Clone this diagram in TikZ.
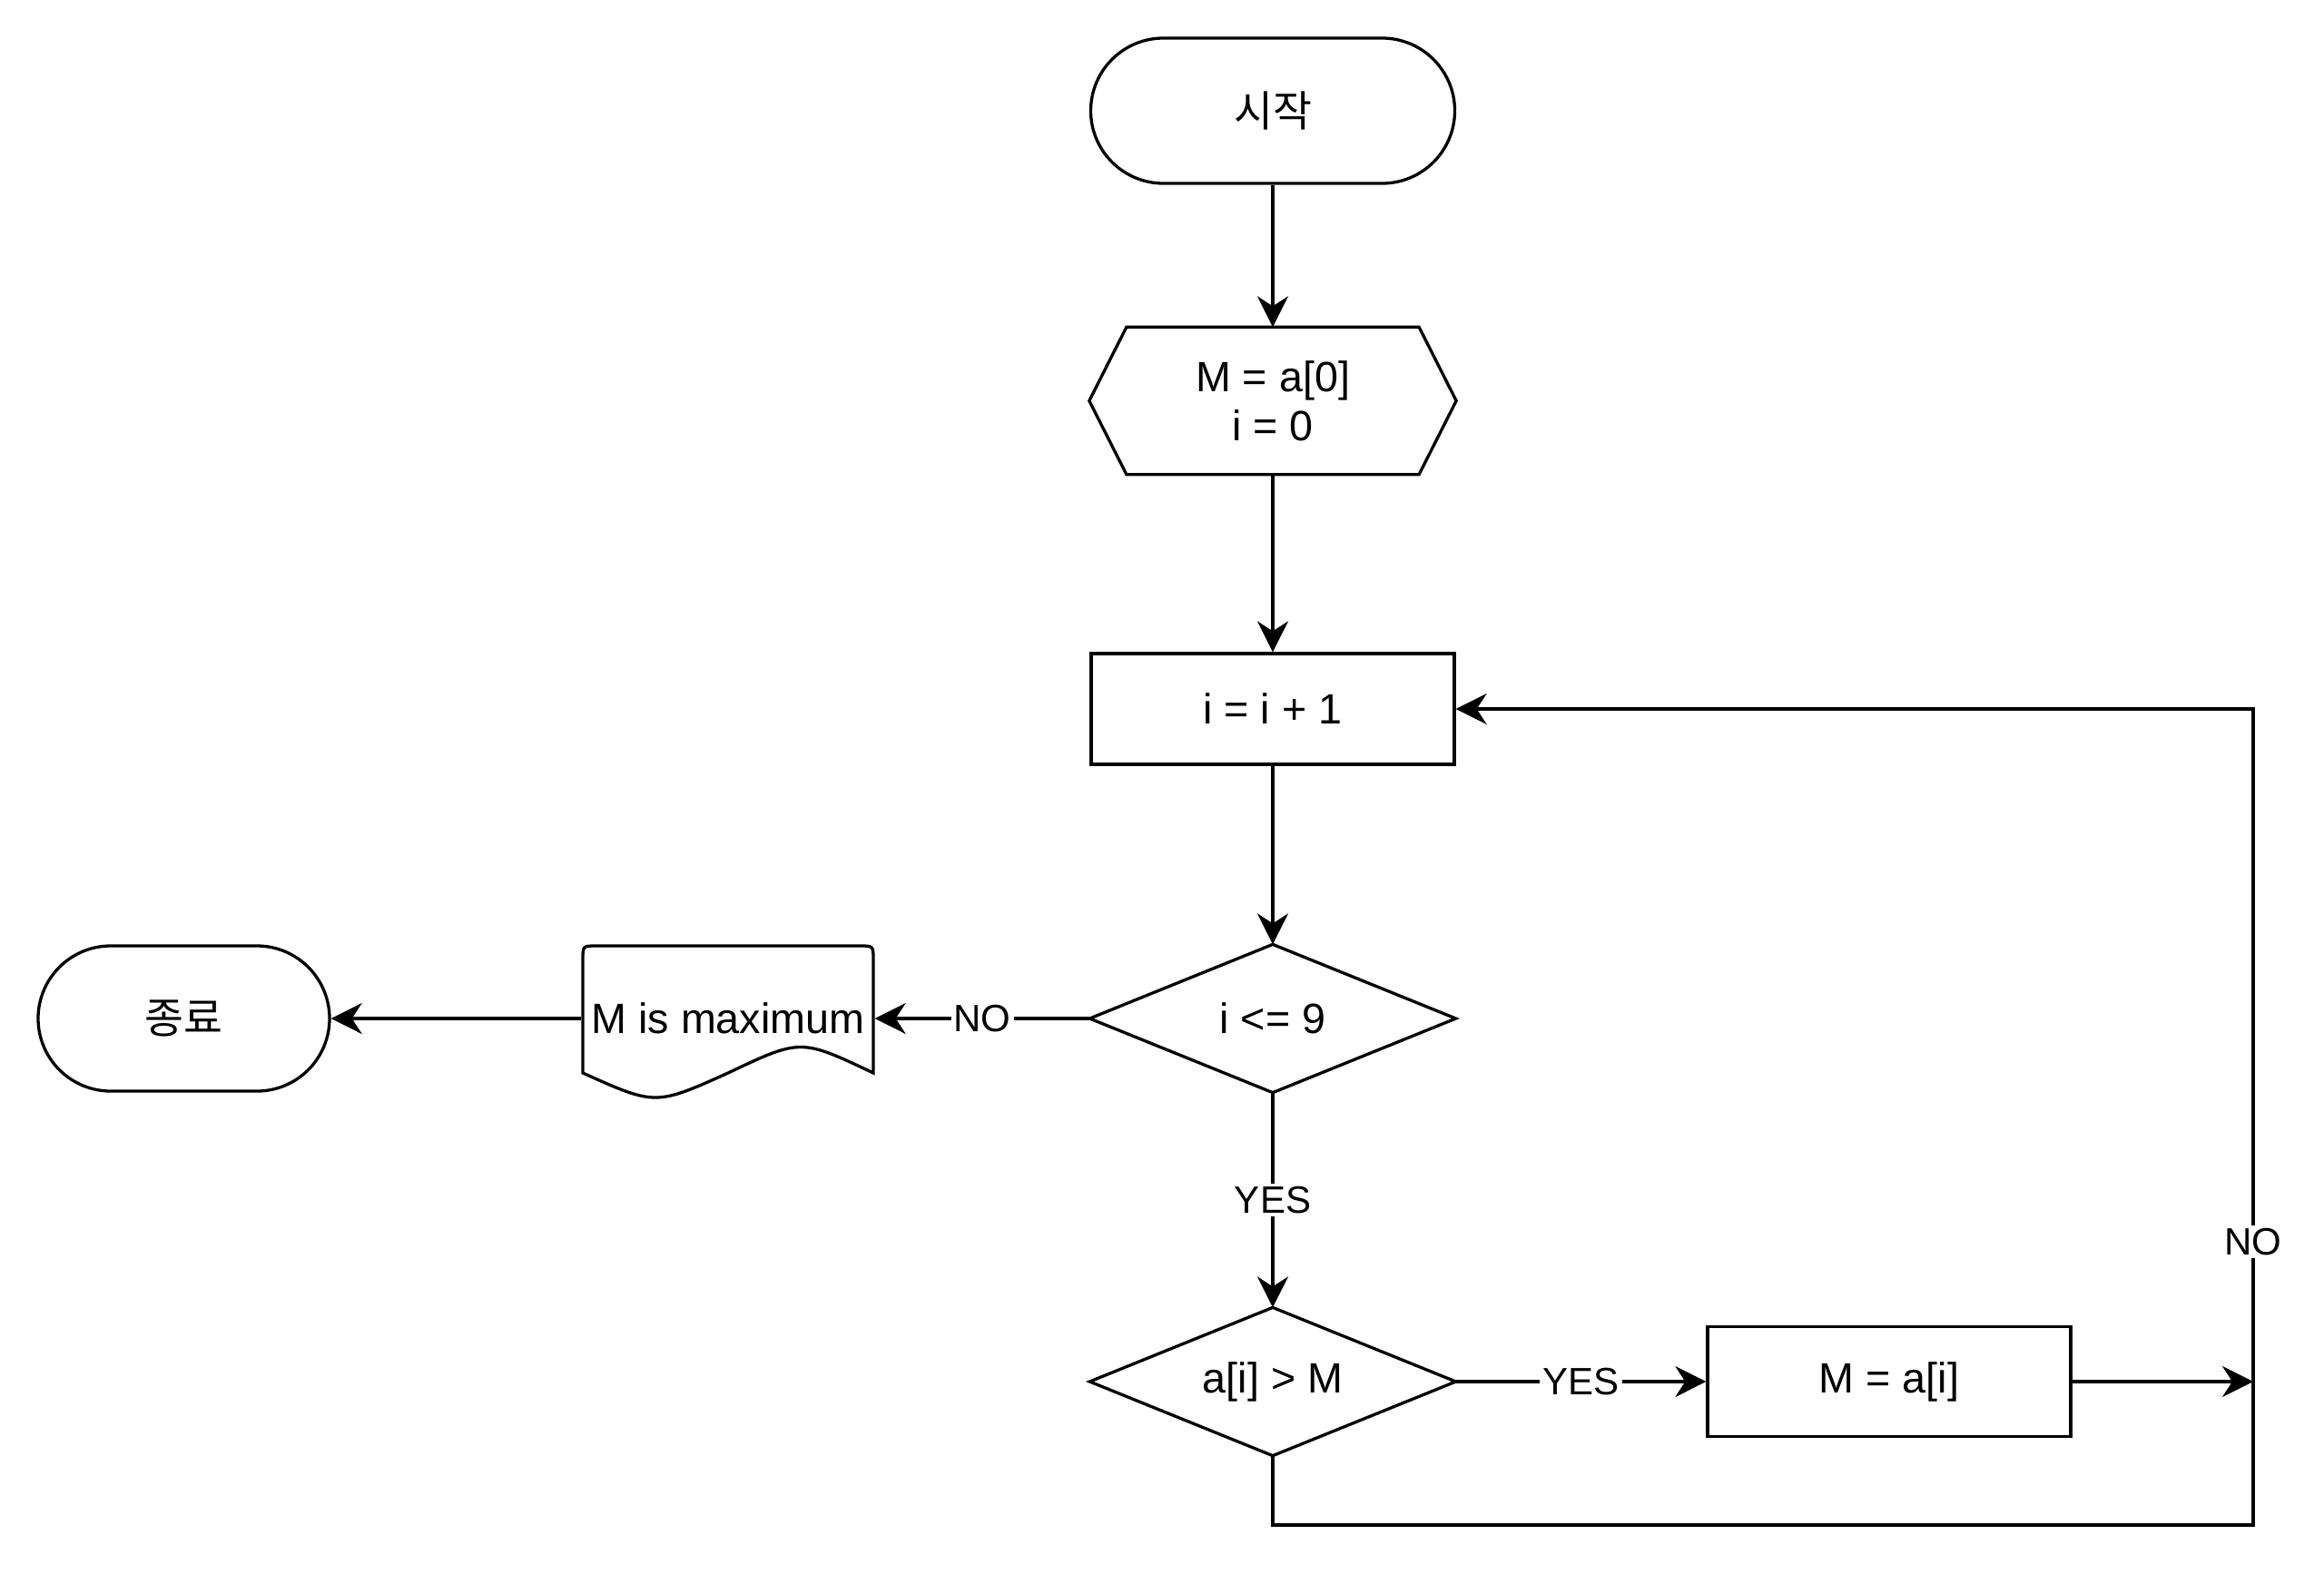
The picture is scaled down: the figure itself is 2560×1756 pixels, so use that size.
\documentclass[tikz,border=0pt]{standalone}
\usepackage{fontspec}
\setmainfont{Liberation Sans}
\newfontfamily\kr{Noto Sans CJK KR}
\usetikzlibrary{arrows.meta,calc}
\begin{document}
\begin{tikzpicture}[x=1pt,y=-1pt,line width=3.3pt,
  >={Stealth[length=34pt,width=34pt,inset=11pt]},
  every node/.style={font=\fontsize{46.7}{54}\selectfont, align=center},
  term/.style={draw, rectangle, rounded corners=80pt, minimum height=160pt, inner sep=0pt},
  procbox/.style={draw, rectangle, minimum width=400pt, inner sep=0pt},
  ghost/.style={rectangle, inner sep=0pt},
  lbl/.style={fill=white, inner sep=3pt, font=\fontsize{42}{48}\selectfont}]
\useasboundingbox (0,0) rectangle (2560,1756);
\fill[white] (0,0) rectangle (2560,1756);

% nodes
\node[term, minimum width=401pt] (start) at (1402,122) {\kr 시작};
\node[ghost, minimum width=401pt, minimum height=159pt] (init) at (1402,441.5) {M = a[0]\\i = 0};
\draw (init.west) -- ($(init.north west)+(41,0)$) -- ($(init.north east)+(-41,0)$) -- (init.east)
      -- ($(init.south east)+(-41,0)$) -- ($(init.south west)+(41,0)$) -- cycle;
\node[procbox, minimum height=122pt] (inc) at (1402,781) {i = i + 1};
\node[ghost, minimum width=400pt, minimum height=160pt] (dec1) at (1402,1122) {i <= 9};
\draw (dec1.west) -- (dec1.north) -- (dec1.east) -- (dec1.south) -- cycle;
\node[ghost, minimum width=320pt, minimum height=160pt] (doc) at (802,1122) {M is maximum};
\draw (642,1182) -- (642,1057) .. controls (642,1042) .. (657,1042) -- (947,1042)
      .. controls (962,1042) .. (962,1057) -- (962,1182)
      .. controls (882,1144) .. (802,1182) .. controls (722,1218) .. (642,1182) -- cycle;
\node[term, minimum width=321pt] (endn) at (202.5,1122) {\kr 종료};
\node[ghost, minimum width=400pt, minimum height=160pt] (dec2) at (1402,1522) {a[i] > M};
\draw (dec2.west) -- (dec2.north) -- (dec2.east) -- (dec2.south) -- cycle;
\node[procbox, minimum height=121pt] (upd) at (2081,1522) {M = a[i]};

\coordinate (lb) at (2482,1680);
\coordinate (lt) at (2482,781);
\coordinate (mj) at (2482,1522);

% connectors
\draw[->] (start) -- (init);
\draw[->] (init) -- (inc);
\draw[->] (inc) -- (dec1);
\draw[->] (dec1.west) -- node[lbl]{NO} (doc.east);
\draw[->] (doc.west) -- (endn.east);
\draw[->] (dec1.south) -- node[lbl]{YES} (dec2.north);
\draw[->] (dec2.east) -- node[lbl]{YES} (upd.west);
\draw[->] (upd.east) -- (mj);
\draw[->] (dec2.south) |- (lb) -- node[lbl,pos=0.347]{NO} (lt) -- (inc.east);
\end{tikzpicture}
\end{document}
